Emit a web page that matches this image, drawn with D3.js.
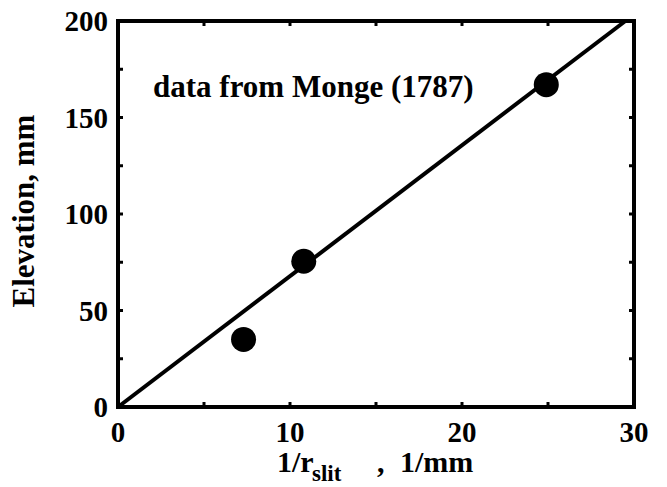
<!DOCTYPE html>
<html>
<head>
<meta charset="utf-8">
<script src="https://cdn.jsdelivr.net/npm/d3@7"></script>
<style>
  body { margin: 0; background: #fff; }
</style>
</head>
<body>
<svg id="chart"></svg>
<script>
// data
const invRadius = [7.3, 10.8, 24.9];
const elevation = [35, 75.5, 167];
const fitLine = [[0, 0], [29.5, 200]];
const xTicks = [0, 5, 10, 15, 20, 25, 30];
const xLabels = [0, 10, 20, 30];
const yTicks = [0, 25, 50, 75, 100, 125, 150, 175, 200];
const yLabels = [0, 50, 100, 150, 200];

const FONT = "'Liberation Serif', 'Times New Roman', Times, serif";

const config = {
    width: 667,
    height: 487,
    margin: { top: 21, right: 33, bottom: 80, left: 118 }
};

const svg = d3.select("#chart")
    .attr("width", config.width)
    .attr("height", config.height)
    .attr("font-family", FONT)
    .attr("font-weight", "bold");

const w = config.width - config.margin.left - config.margin.right;
const h = config.height - config.margin.top - config.margin.bottom;

const g = svg.append("g")
    .attr("transform", `translate(${config.margin.left},${config.margin.top})`);

const x = d3.scaleLinear().domain([0, 30]).range([0, w]);
const y = d3.scaleLinear().domain([0, 200]).range([h, 0]);

// inward ticks on all four sides
const tickLen = 5;
g.selectAll(".xt-b").data(xTicks).enter().append("line")
    .attr("x1", d => x(d)).attr("x2", d => x(d))
    .attr("y1", h).attr("y2", h - tickLen)
    .attr("stroke", "#000").attr("stroke-width", 3);
g.selectAll(".xt-t").data(xTicks).enter().append("line")
    .attr("x1", d => x(d)).attr("x2", d => x(d))
    .attr("y1", 0).attr("y2", tickLen)
    .attr("stroke", "#000").attr("stroke-width", 3);
g.selectAll(".yt-l").data(yTicks).enter().append("line")
    .attr("y1", d => y(d)).attr("y2", d => y(d))
    .attr("x1", 0).attr("x2", tickLen)
    .attr("stroke", "#000").attr("stroke-width", 3);
g.selectAll(".yt-r").data(yTicks).enter().append("line")
    .attr("y1", d => y(d)).attr("y2", d => y(d))
    .attr("x1", w).attr("x2", w - tickLen)
    .attr("stroke", "#000").attr("stroke-width", 3);

// tick labels
g.selectAll(".xl").data(xLabels).enter().append("text")
    .attr("x", d => x(d))
    .attr("y", h + 35)
    .attr("text-anchor", "middle")
    .attr("font-family", FONT)
    .attr("font-size", 29)
    .text(d => d);

g.selectAll(".yl").data(yLabels).enter().append("text")
    .attr("x", -10)
    .attr("y", d => y(d) + 10)
    .attr("text-anchor", "end")
    .attr("font-family", FONT)
    .attr("font-size", 29)
    .text(d => d);

// fitted line
g.append("path")
    .datum(fitLine)
    .attr("d", d3.line().x(d => x(d[0])).y(d => y(d[1])))
    .attr("fill", "none")
    .attr("stroke", "#000")
    .attr("stroke-width", 4);

// data points
g.selectAll("circle").data(invRadius).enter().append("circle")
    .attr("cx", d => x(d))
    .attr("cy", (d, i) => y(elevation[i]))
    .attr("r", 12.5)
    .attr("fill", "#000");

// frame
g.append("rect")
    .attr("x", 0).attr("y", 0)
    .attr("width", w).attr("height", h)
    .attr("fill", "none")
    .attr("stroke", "#000")
    .attr("stroke-width", 4);

// annotation
g.append("text")
    .attr("x", 35)
    .attr("y", 76)
    .attr("font-family", FONT)
    .attr("font-size", 31)
    .text("data from Monge (1787)");

// axis titles
const xt = svg.append("text")
    .attr("y", 472)
    .attr("font-family", FONT)
    .attr("font-size", 30);
xt.append("tspan").attr("x", 277).text("1/r");
xt.append("tspan").attr("x", 312).attr("dy", 9).attr("font-size", 23).text("slit");
xt.append("tspan").attr("x", 377).attr("dy", -9).text(",");
xt.append("tspan").attr("x", 400).text("1/mm");

svg.append("text")
    .attr("transform", "translate(34,211) rotate(-90)")
    .attr("text-anchor", "middle")
    .attr("font-family", FONT)
    .attr("font-size", 31)
    .text("Elevation, mm");
</script>
</body>
</html>
